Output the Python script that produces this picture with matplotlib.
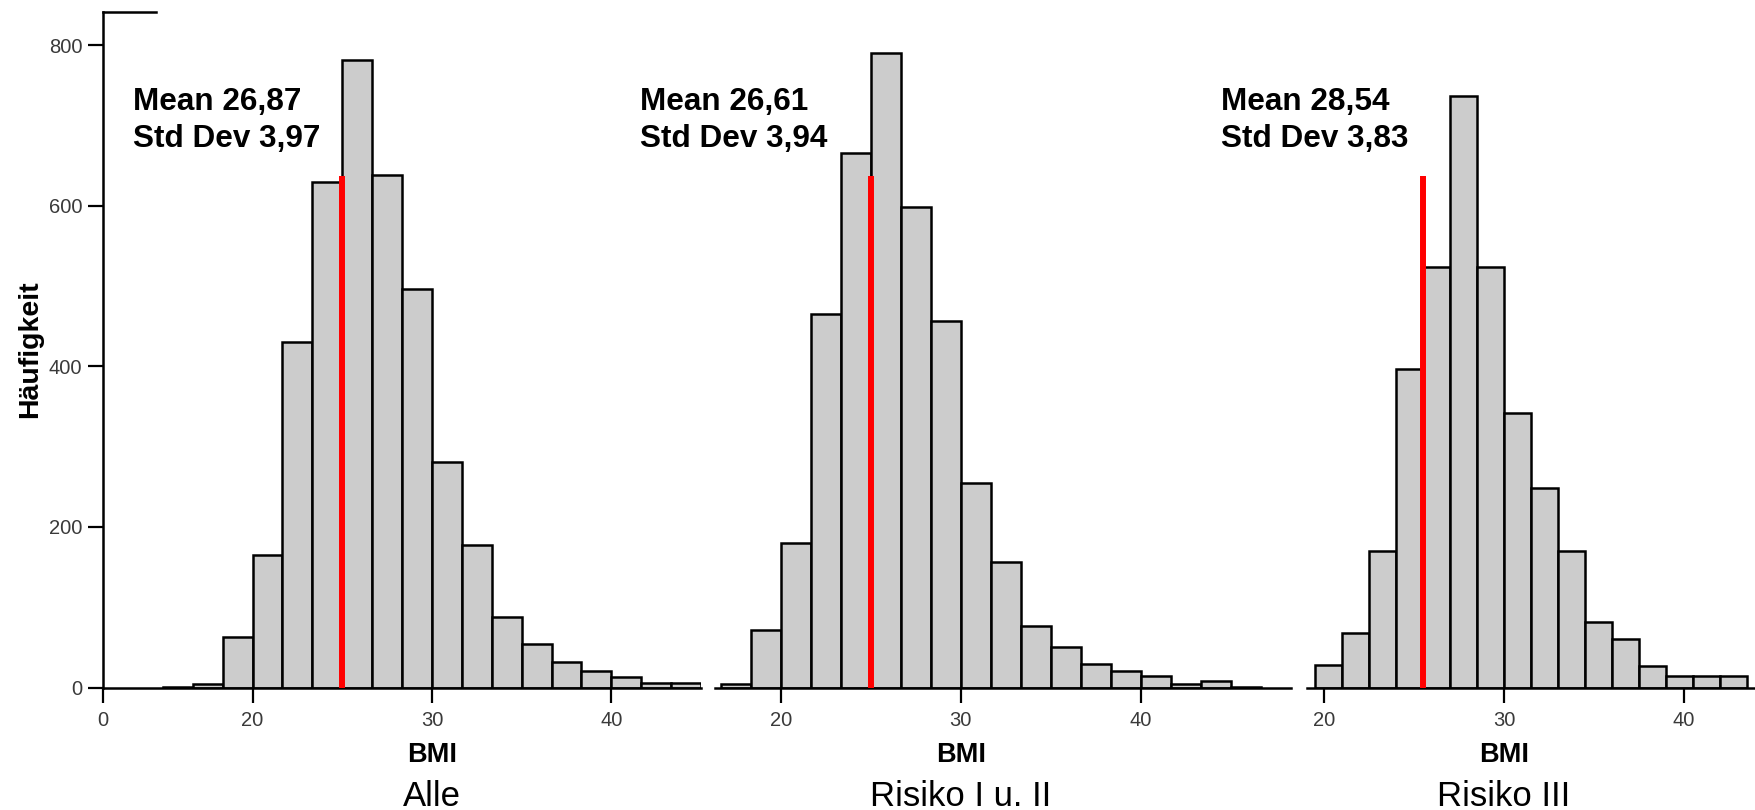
import matplotlib
matplotlib.use('Agg')
import matplotlib.pyplot as plt
import matplotlib.transforms as mtransforms
import numpy as np

plt.rcParams['font.family'] = ['Liberation Sans', 'DejaVu Sans']

# --- data ---
panel_names = ['Alle', 'Risiko I u. II', 'Risiko III']
mean_labels = ['Mean 26,87', 'Mean 26,61', 'Mean 28,54']
std_labels = ['Std Dev 3,97', 'Std Dev 3,94', 'Std Dev 3,83']

# first bin edge and bin width of each histogram
bin_start = [15.0, 50 / 3, 19.5]
bin_width = [5 / 3, 5 / 3, 1.5]

counts_alle = [1, 4, 63, 165, 430, 629, 781, 638, 496, 281, 177, 88, 54, 32, 20, 13, 6, 6]
counts_risiko_12 = [4, 71, 180, 465, 665, 790, 598, 456, 255, 156, 77, 50, 29, 21, 14, 4, 8, 1]
counts_risiko_3 = [28, 68, 170, 396, 523, 736, 523, 342, 249, 170, 81, 60, 27, 14, 14, 14]
all_counts = [counts_alle, counts_risiko_12, counts_risiko_3]

# red reference line (x position, height)
red_x = [25.0, 25.0, 25.5]
red_top = 637

x_ticks = [[0, 20, 30, 40], [20, 30, 40], [20, 30, 40]]
x_limits = [(0, 45), (16.35, 48.33), (19.07, 44.0)]
y_ticks = [0, 200, 400, 600, 800]

# --- layout (figure fractions) ---
W, H = 1756, 810
bottom = 1 - 687.5 / H
height = (687.5 - 11.7) / H
lefts = [103.3, 715, 1307.3]
rights = [701, 1290.7, 1756]
text_left = [133.3, 640, 1220.7]


# the first panel squeezes 0..15 into a short stretch of axis
def fwd(x):
    x = np.asarray(x, dtype=float)
    return np.where(x < 15, 15 - (15 - x) * 0.2213, x)


def inv(y):
    y = np.asarray(y, dtype=float)
    return np.where(y < 15, 15 - (15 - y) / 0.2213, y)


fig = plt.figure(figsize=(W / 100, H / 100), dpi=100)

for i in range(3):
    ax = fig.add_axes([lefts[i] / W, bottom, (rights[i] - lefts[i]) / W, height])
    if i == 0:
        ax.set_xscale('function', functions=(fwd, inv))

    counts = all_counts[i]
    edges = bin_start[i] + bin_width[i] * np.arange(len(counts))
    ax.bar(edges, counts, width=bin_width[i], align='edge',
           color='#cccccc', edgecolor='black', linewidth=1.8, zorder=2)
    ax.vlines(red_x[i], 0, red_top, color='red', linewidth=4.3, zorder=3)

    ax.set_xlim(*x_limits[i])
    ax.set_ylim(0, 841.5)
    ax.set_xticks(x_ticks[i])
    ax.tick_params(axis='x', direction='out', length=11, width=1.6,
                   labelsize=14.5, labelcolor='#3a3a3a', pad=6)

    for s in ['top', 'right']:
        ax.spines[s].set_visible(False)
    ax.spines['bottom'].set_linewidth(1.8)

    if i == 0:
        ax.set_yticks(y_ticks)
        ax.tick_params(axis='y', direction='out', length=11, width=1.6,
                       labelsize=14.5, labelcolor='#3a3a3a', pad=4)
        ax.spines['left'].set_linewidth(1.8)
        # little stub of the top frame
        ax.plot([0, 0.088], [1, 1], color='black', linewidth=1.8,
                transform=ax.transAxes, clip_on=False)
    else:
        ax.spines['left'].set_visible(False)
        ax.set_yticks([])

    trans = mtransforms.blended_transform_factory(ax.transData, fig.transFigure)
    ax.text(30, 1 - 762.3 / H, 'BMI', transform=trans, ha='center', va='baseline',
            fontsize=19.5, fontweight='bold')
    ax.text(30, 1 - 806 / H, panel_names[i], transform=trans, ha='center', va='baseline',
            fontsize=25)

    fig.text(text_left[i] / W, 1 - 110 / H, mean_labels[i], ha='left', va='baseline',
             fontsize=22.7, fontweight='bold')
    fig.text(text_left[i] / W, 1 - 147 / H, std_labels[i], ha='left', va='baseline',
             fontsize=22.7, fontweight='bold')

fig.text(30 / W, 1 - 349 / H, 'Häufigkeit', rotation=90, ha='center', va='center',
         fontsize=20.5, fontweight='bold')

fig.savefig('out.png', dpi=100)
